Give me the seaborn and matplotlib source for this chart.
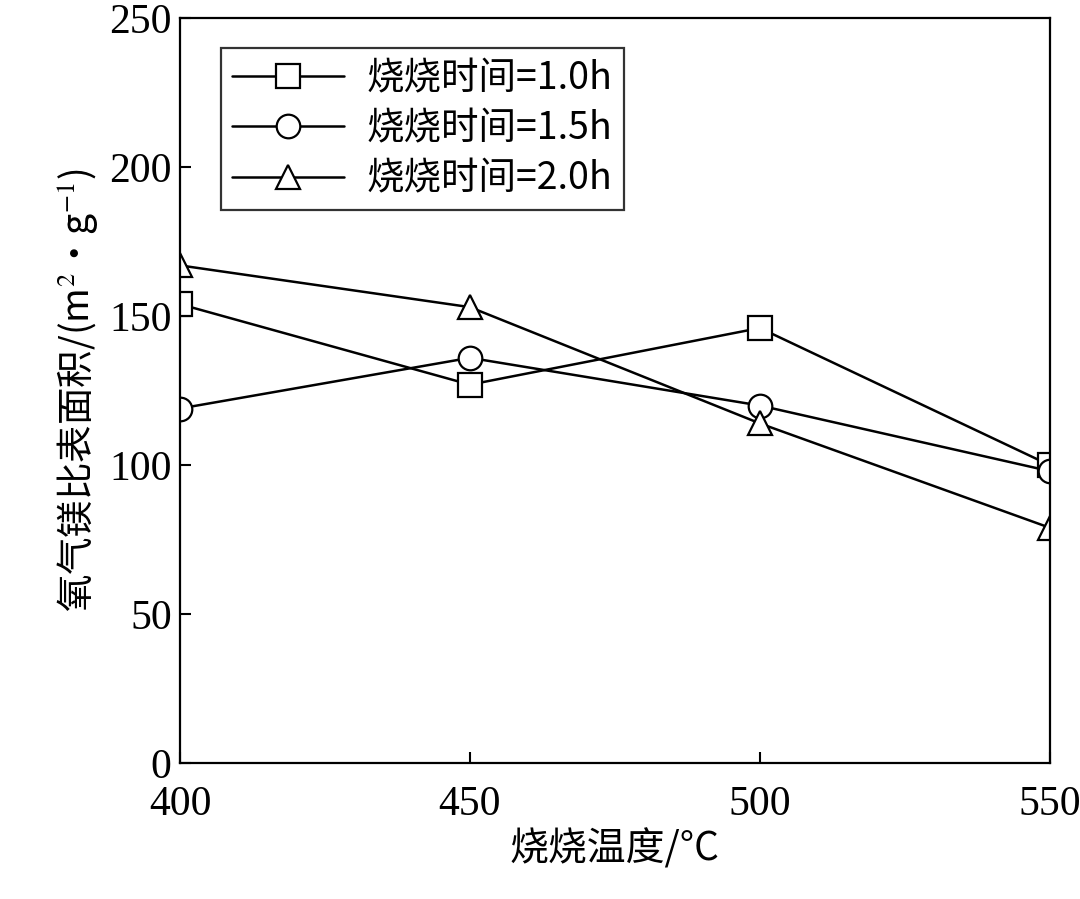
import matplotlib
matplotlib.use("Agg")
import matplotlib.pyplot as plt
import seaborn as sns
import pandas as pd

temps = [400, 450, 500, 550]
s10 = [154, 127, 146, 100]
s15 = [119, 136, 120, 98]
s20 = [167, 153, 114, 79]
labels = ["烧烧时间=1.0h", "烧烧时间=1.5h", "烧烧时间=2.0h"]
markers = ["s", "o", "^"]

sns.set_style("ticks")
plt.rcParams['font.family'] = ['Liberation Serif', 'Noto Sans CJK SC']
plt.rcParams['mathtext.fontset'] = 'stix'
plt.rcParams['text.color'] = 'black'
plt.rcParams['axes.labelcolor'] = 'black'
plt.rcParams['xtick.color'] = 'black'
plt.rcParams['ytick.color'] = 'black'
plt.rcParams['axes.edgecolor'] = 'black'

df = pd.DataFrame({"T": temps * 3, "v": s10 + s15 + s20,
                   "s": [labels[0]] * 4 + [labels[1]] * 4 + [labels[2]] * 4})

fig = plt.figure(figsize=(10.8, 8.99), dpi=100)
ax = fig.add_axes([0.1667, 0.151, 0.8053, 0.829])
sns.lineplot(data=df, x="T", y="v", hue="s", style="s", markers=markers, dashes=False,
             palette=["black"] * 3, markersize=17, markerfacecolor="white",
             markeredgecolor="black", markeredgewidth=1.6, linewidth=1.8, ax=ax)
ax.set_xlim(400, 550)
ax.set_ylim(0, 250)
ax.set_xticks(temps)
ax.set_yticks([0, 50, 100, 150, 200, 250])
ax.tick_params(direction="in", labelsize=30, length=8, width=1.5)
ax.tick_params(axis="x", pad=16)
ax.tick_params(axis="y", pad=6)
for s in ax.spines.values():
    s.set_linewidth(1.6)
    s.set_visible(True)
ax.set_xlabel("烧烧温度/°C", fontsize=28, family=['Noto Sans CJK SC', 'Liberation Serif'], labelpad=4)
ax.set_ylabel("氧气镁比表面积/(m$^2$·g$^{-1}$)", fontsize=27, family=['Noto Sans CJK SC', 'Liberation Serif'], labelpad=6)
leg = ax.legend(loc="upper left", bbox_to_anchor=(0.025, 0.985), frameon=True,
                fancybox=False, edgecolor="black", handlelength=3.0, borderpad=0.3,
                labelspacing=0.3, handletextpad=0.6,
                prop={'family': ['Noto Sans CJK SC', 'Liberation Serif'], 'size': 27})
leg.get_frame().set_linewidth(1.6)
fig.savefig("out.png", dpi=100)
